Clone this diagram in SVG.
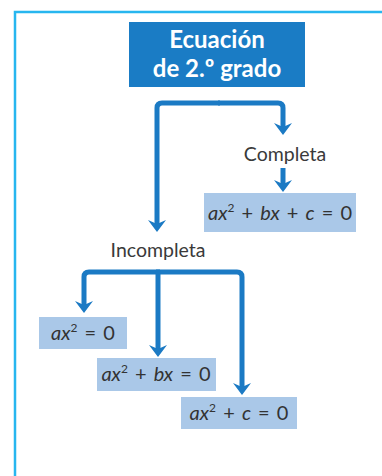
<svg xmlns="http://www.w3.org/2000/svg" width="382" height="476" viewBox="0 0 382 476">
<style>
.lbl{font-family:Lato,"Open Sans","Liberation Sans",sans-serif;font-size:19.5px;fill:#3a3a3a;text-anchor:middle}
.math{font-family:Lato,"Open Sans","Liberation Sans",sans-serif;font-size:20px;fill:#333;text-anchor:middle;word-spacing:2px}
.math .v{font-style:italic}
.ttl{font-family:Lato,"Open Sans","Liberation Sans",sans-serif;font-size:24px;font-weight:bold;fill:#fff;text-anchor:middle}
.box{fill:#aac8e8}
.con{fill:none;stroke:#1b7ac4;stroke-width:5}
.arr{marker-end:url(#ah)}
</style>
<defs>
<marker id="ah" markerUnits="userSpaceOnUse" markerWidth="14" markerHeight="20" refX="6" refY="0" viewBox="0 -10 13 20" orient="auto" overflow="visible">
<path d="M0,-9 L12,0 L0,9 L4,0 Z" fill="#1b7ac4"/>
</marker>
</defs>
<rect x="0" y="0" width="382" height="476" fill="#fff"/>
<rect x="15" y="12" width="390" height="490" fill="none" stroke="#27b6ef" stroke-width="2.5"/>
<g id="connectors">
<path class="con arr" d="M220,103 H162 Q157,103 157,108 V226"/>
<path class="con arr" d="M218,103 H278 Q283,103 283,108 V129"/>
<path class="con arr" d="M283,168 V186"/>
<path class="con arr" d="M160,272 H89 Q84,272 84,277 V307"/>
<path class="con arr" d="M156,272 H237 Q242,272 242,277 V389"/>
<path class="con arr" d="M158,270 V351"/>
</g>
<g id="title">
<rect x="129" y="22" width="176" height="65" fill="#1a7cc5"/>
<text class="ttl" x="217" y="48">Ecuación</text>
<text class="ttl" x="217" y="77">de 2.º grado</text>
</g>
<g id="completa">
<text class="lbl" x="285" y="161">Completa</text>
</g>
<g id="eq-completa">
<rect class="box" x="204" y="193" width="152" height="39"/>
<text class="math" x="280" y="220"><tspan class="v">ax</tspan><tspan font-size="12" dy="-8">2</tspan><tspan dy="8"> + </tspan><tspan class="v">bx</tspan> + <tspan class="v">c</tspan> = 0</text>
</g>
<g id="incompleta">
<text class="lbl" x="158" y="257">Incompleta</text>
</g>
<g id="eq1">
<rect class="box" x="39" y="317" width="88" height="32"/>
<text class="math" x="83" y="340"><tspan class="v">ax</tspan><tspan font-size="12" dy="-8">2</tspan><tspan dy="8"> = 0</tspan></text>
</g>
<g id="eq2">
<rect class="box" x="97" y="358" width="119" height="33"/>
<text class="math" x="156" y="381"><tspan class="v">ax</tspan><tspan font-size="12" dy="-8">2</tspan><tspan dy="8"> + </tspan><tspan class="v">bx</tspan> = 0</text>
</g>
<g id="eq3">
<rect class="box" x="181" y="397" width="116" height="32"/>
<text class="math" x="239" y="420"><tspan class="v">ax</tspan><tspan font-size="12" dy="-8">2</tspan><tspan dy="8"> + </tspan><tspan class="v">c</tspan> = 0</text>
</g>
</svg>
